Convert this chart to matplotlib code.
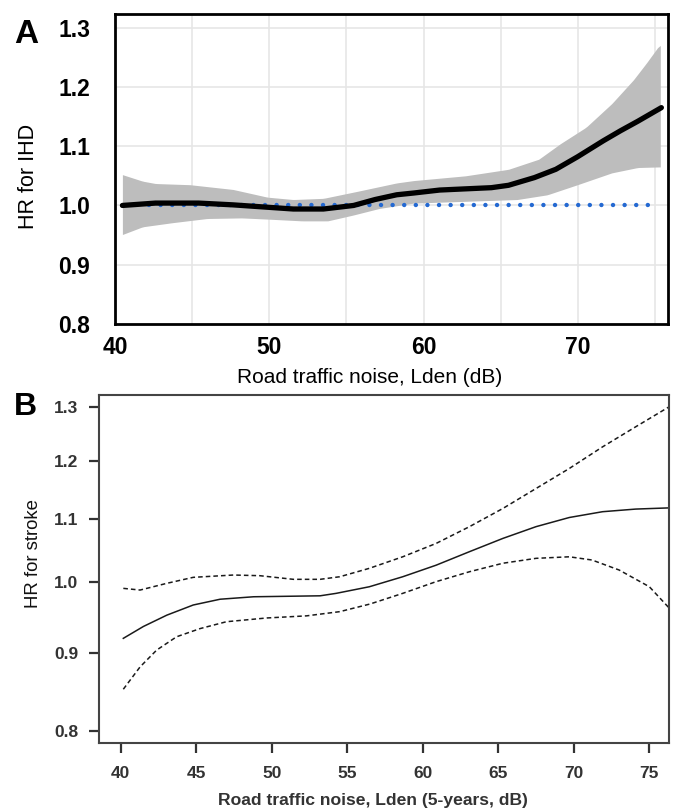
import numpy as np
import matplotlib
matplotlib.use("Agg")
import matplotlib.pyplot as plt
from matplotlib.ticker import FixedLocator, NullLocator, FormatStrFormatter

plt.rcParams['font.family'] = ['Liberation Sans', 'DejaVu Sans']

# ---- panel A: road traffic noise vs HR for IHD ----
ihd_x = [40.48, 42.63, 45.42, 47.65, 49.88, 51.56, 53.51, 55.47, 56.86, 58.26, 59.37,
         61.05, 62.72, 64.40, 65.51, 67.19, 68.58, 69.98, 71.65, 72.77, 73.89, 75.42]
ihd_hr = [1.000, 1.004, 1.004, 1.001, 0.997, 0.994, 0.994, 1.000, 1.010, 1.018, 1.021,
          1.026, 1.028, 1.030, 1.034, 1.047, 1.061, 1.082, 1.109, 1.126, 1.142, 1.165]

ihd_up_x = [40.48, 41.79, 42.63, 44.86, 47.65, 49.88, 51.56, 53.51, 55.74, 58.26,
            59.37, 62.72, 65.51, 67.47, 68.86, 70.54, 72.21, 73.61, 74.44, 75.28]
ihd_up = [1.052, 1.041, 1.037, 1.035, 1.027, 1.014, 1.010, 1.012, 1.024, 1.038,
          1.042, 1.050, 1.061, 1.078, 1.104, 1.132, 1.172, 1.212, 1.240, 1.270]

ihd_lo_x = [40.48, 41.79, 43.74, 45.98, 48.21, 49.88, 52.12, 53.79, 55.47, 57.14,
            59.37, 62.72, 66.07, 68.03, 69.98, 72.21, 73.89, 75.28]
ihd_lo = [0.951, 0.964, 0.971, 0.978, 0.979, 0.977, 0.974, 0.974, 0.984, 0.995,
          1.004, 1.007, 1.010, 1.018, 1.035, 1.055, 1.064, 1.065]

ref_x = [42.2, 74.9]
ref_hr = [1.0, 1.0]

# ---- panel B: road traffic noise (5-years) vs HR for stroke ----
stroke_x = [40.17, 41.5, 43.05, 44.8, 46.58, 48.8, 53.2, 54.26, 56.46, 58.67, 60.88,
            63.09, 65.3, 67.5, 69.7, 71.9, 74.1, 76.32]
stroke_hr = [0.9195, 0.936, 0.952, 0.9666, 0.975, 0.9786, 0.980, 0.9836, 0.9934, 1.0084,
             1.026, 1.047, 1.068, 1.087, 1.102, 1.1116, 1.116, 1.118]

stroke_up_x = [40.17, 41.28, 43.05, 44.8, 47.46, 49.2, 51.43, 53.2, 54.5, 56.46, 58.67,
               60.88, 63.09, 65.3, 67.5, 69.7, 71.9, 74.1, 76.32]
stroke_up = [0.991, 0.9885, 0.9985, 1.0075, 1.011, 1.010, 1.0045, 1.0045, 1.0084, 1.0212,
             1.039, 1.060, 1.087, 1.117, 1.151, 1.186, 1.225, 1.2625, 1.301]

stroke_lo_x = [40.17, 41.28, 42.38, 43.7, 45.25, 47.0, 49.67, 52.3, 54.5, 56.5, 58.67,
               60.88, 63.09, 65.3, 67.5, 69.7, 71.2, 73.0, 75.0, 76.32]
stroke_lo = [0.852, 0.881, 0.9035, 0.9217, 0.933, 0.9427, 0.948, 0.951, 0.957, 0.968,
             0.9836, 1.001, 1.016, 1.029, 1.0366, 1.039, 1.034, 1.0186, 0.9934, 0.962]

fig = plt.figure(figsize=(6.76, 8.10), dpi=100)

# ================= panel A =================
axA = fig.add_axes([115/676, 1-324/810, 553/676, 310/810])
band_x = np.linspace(40.48, 75.35, 200)
axA.fill_between(band_x, np.interp(band_x, ihd_lo_x, ihd_lo), np.interp(band_x, ihd_up_x, ihd_up),
                 color='#bdbdbd', linewidth=0, zorder=2)
axA.plot(ref_x, ref_hr, color='#2469d2', lw=3.2, linestyle=(0, (0.01, 2.6)),
         dash_capstyle='round', zorder=3)
axA.plot(ihd_x, ihd_hr, color='black', lw=3.8, solid_capstyle='round', zorder=4)

axA.set_xlim(40.0, 75.85)
axA.set_ylim(0.8, 1.323)
axA.set_xticks([40, 50, 60, 70])
axA.set_yticks([0.8, 0.9, 1.0, 1.1, 1.2, 1.3])
axA.yaxis.set_major_formatter(FormatStrFormatter('%.1f'))
for gx in [45, 50, 55, 60, 65, 70, 75]:
    axA.axvline(gx, color='#e6e6e6', lw=1.2, zorder=1)
for gy in [0.9, 1.0, 1.1, 1.2, 1.3]:
    axA.axhline(gy, color='#e6e6e6', lw=1.2, zorder=1)
axA.tick_params(axis='both', length=0, labelsize=16.5)
axA.tick_params(axis='y', pad=18)
axA.tick_params(axis='x', pad=9)
for lab in axA.get_xticklabels() + axA.get_yticklabels():
    lab.set_fontweight('bold')
for sp in axA.spines.values():
    sp.set_linewidth(2.0)
    sp.set_color('black')
axA.text(0.461, -0.171, 'Road traffic noise, Lden (dB)', transform=axA.transAxes,
         ha='center', va='center', fontsize=15)
axA.text(-0.157, 0.476, 'HR for IHD', transform=axA.transAxes, rotation=90,
         ha='center', va='center', fontsize=15.5)
fig.text(14/676, 1-19/810, 'A', fontsize=24, fontweight='bold', ha='left', va='top')

# ================= panel B =================
dark = '#333333'
axB = fig.add_axes([99/676, 1-743.3/810, 570.3/676, 348.3/810])
axB.plot(stroke_x, stroke_hr, color='#1a1a1a', lw=1.1)
axB.plot(stroke_up_x, stroke_up, color='#1a1a1a', lw=1.1, linestyle=(0, (3, 2)))
axB.plot(stroke_lo_x, stroke_lo, color='#1a1a1a', lw=1.1, linestyle=(0, (3, 2)))

axB.set_yscale('log')
axB.set_xlim(38.56, 76.32)
axB.set_ylim(0.7857, 1.324)
axB.xaxis.set_major_locator(FixedLocator([40, 45, 50, 55, 60, 65, 70, 75]))
axB.yaxis.set_major_locator(FixedLocator([0.8, 0.9, 1.0, 1.1, 1.2, 1.3]))
axB.yaxis.set_minor_locator(NullLocator())
axB.yaxis.set_major_formatter(FormatStrFormatter('%.1f'))
axB.tick_params(axis='both', length=7, width=1.6, color=dark, labelcolor=dark, labelsize=12.5)
axB.tick_params(axis='y', pad=8)
axB.tick_params(axis='x', pad=9)
for lab in axB.get_xticklabels() + axB.get_yticklabels():
    lab.set_fontweight('bold')
for sp in axB.spines.values():
    sp.set_linewidth(1.5)
    sp.set_color('#444444')
axB.text(0.481, -0.163, 'Road traffic noise, Lden (5-years, dB)', transform=axB.transAxes,
         ha='center', va='center', fontsize=12.6, fontweight='bold', color=dark)
axB.text(-0.114, 0.546, 'HR for stroke', transform=axB.transAxes, rotation=90,
         ha='center', va='center', fontsize=13.4, color='#111111')
fig.text(14/676, 1-392/810, 'B', fontsize=23, fontweight='bold', ha='left', va='top')

fig.savefig('out.png', dpi=100)
